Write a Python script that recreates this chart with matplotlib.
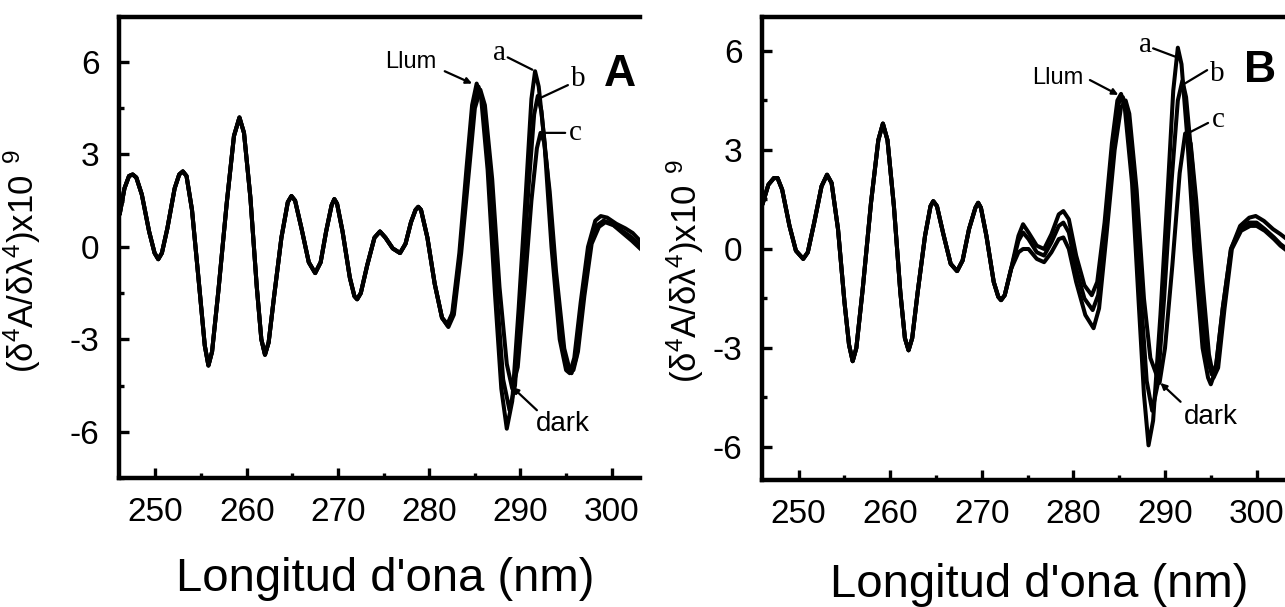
import numpy as np
import matplotlib
matplotlib.use("Agg")
import matplotlib.pyplot as plt
from matplotlib.ticker import MultipleLocator

plt.rcParams['font.family'] = ['Liberation Sans', 'DejaVu Sans']
plt.rcParams['mathtext.fontset'] = 'custom'
plt.rcParams['mathtext.rm'] = 'Liberation Sans'
plt.rcParams['mathtext.it'] = 'Liberation Sans:italic'

# ---- Panel A: part shared by all curves (nm, value x1e9)
xA_common = [246.1, 246.6, 247.1, 247.5, 247.9, 248.5, 249.3, 249.9, 250.3, 250.7,
             251.3, 252.1, 252.6, 253.0, 253.4, 254.0, 254.8, 255.4, 255.8, 256.2,
             256.9, 257.8, 258.6, 259.2, 259.7, 260.4, 261.1, 261.6, 262.0, 262.4,
             263.0, 263.8, 264.5, 264.9, 265.3, 266.0, 266.8, 267.5, 268.1, 268.7,
             269.3, 269.6, 269.9, 270.5, 271.3, 271.8, 272.1, 272.5, 273.2, 274.0,
             274.6, 275.2, 276.0, 276.8, 277.4, 278.0, 278.5, 278.8, 279.1, 279.8,
             280.6, 281.4]
yA_common = [1.1, 1.9, 2.3, 2.35, 2.25, 1.7, 0.5, -0.2, -0.4, -0.2,
             0.6, 1.9, 2.35, 2.45, 2.3, 1.2, -1.3, -3.2, -3.85, -3.4,
             -1.4, 1.4, 3.6, 4.2, 3.7, 1.6, -1.3, -3.0, -3.5, -3.1,
             -1.6, 0.3, 1.45, 1.65, 1.5, 0.6, -0.5, -0.85, -0.5, 0.5,
             1.35, 1.55, 1.4, 0.5, -1.0, -1.6, -1.7, -1.5, -0.6, 0.3,
             0.5, 0.3, -0.05, -0.2, 0.1, 0.8, 1.2, 1.3, 1.2, 0.3,
             -1.2, -2.3]

# ---- Panel A: separate curves after 282 nm
xA_a = [282.0, 282.5, 283.3, 284.1, 284.7, 285.2, 285.7, 286.4, 287.2, 287.9,
        288.5, 289.1, 289.8, 290.6, 291.2, 291.6, 292.0, 292.6, 293.4, 294.3,
        295.0, 295.4, 295.9, 296.6, 297.4, 298.2, 298.8, 299.5, 300.5, 301.5,
        302.3, 303.1]
yA_a = [-2.55, -2.2, -0.2, 2.6, 4.6, 5.3, 4.8, 2.5, -1.5, -4.6,
        -5.9, -5.0, -2.0, 1.8, 4.8, 5.7, 5.2, 3.5, 0.0, -3.0,
        -4.0, -4.1, -3.6, -1.8, 0.0, 0.85, 1.0, 0.95, 0.75, 0.6,
        0.45, 0.2]
xA_b = [282.0, 282.6, 283.4, 284.3, 284.9, 285.4, 285.9, 286.6, 287.4, 288.1,
        288.8, 289.4, 290.1, 290.9, 291.5, 291.9, 292.3, 292.9, 293.7, 294.6,
        295.2, 295.6, 296.1, 296.8, 297.6, 298.4, 299.1, 300.0, 301.0, 302.0,
        303.1]
yA_b = [-2.5, -2.1, -0.2, 2.6, 4.6, 5.2, 4.7, 2.4, -1.5, -4.3,
        -5.3, -4.5, -1.6, 2.0, 4.3, 4.9, 4.4, 2.6, -0.5, -3.2,
        -4.0, -4.1, -3.6, -1.8, 0.0, 0.7, 0.85, 0.75, 0.55, 0.35,
        0.05]
xA_c = [282.1, 282.7, 283.5, 284.4, 285.0, 285.6, 286.1, 286.9, 287.7, 288.5,
        289.1, 289.7, 290.4, 291.2, 291.8, 292.2, 292.6, 293.2, 293.9, 294.8,
        295.4, 295.8, 296.3, 297.0, 297.8, 298.6, 299.3, 300.2, 301.2, 302.2,
        303.1]
yA_c = [-2.6, -2.2, -0.2, 2.6, 4.5, 5.1, 4.6, 2.2, -1.3, -3.8,
        -4.6, -3.9, -1.5, 1.5, 3.2, 3.7, 3.4, 1.8, -0.8, -3.3,
        -4.0, -4.0, -3.4, -1.6, 0.1, 0.65, 0.8, 0.7, 0.45, 0.2,
        -0.05]

# ---- Panel B: shared part
xB_common = [246.1, 246.7, 247.3, 247.7, 248.2, 249.0, 249.7, 250.5, 251.0, 251.7,
             252.5, 253.1, 253.6, 254.3, 255.0, 255.5, 255.9, 256.3, 257.0, 257.9,
             258.7, 259.2, 259.7, 260.4, 261.1, 261.6, 262.0, 262.4, 263.0, 263.8,
             264.4, 264.7, 265.1, 265.8, 266.6, 267.3, 267.9, 268.6, 269.3, 269.6,
             269.9, 270.5, 271.3, 271.8, 272.1, 272.5, 273.2]
yB_common = [1.4, 1.95, 2.15, 2.15, 1.8, 0.7, -0.05, -0.3, -0.1, 0.8,
             1.9, 2.25, 2.0, 0.6, -1.6, -2.9, -3.4, -3.0, -1.2, 1.4,
             3.3, 3.8, 3.3, 1.3, -1.3, -2.7, -3.07, -2.7, -1.3, 0.4,
             1.3, 1.45, 1.3, 0.45, -0.45, -0.67, -0.35, 0.6, 1.25, 1.4,
             1.25, 0.4, -1.0, -1.45, -1.55, -1.4, -0.6]

# ---- Panel B: separate curves after 274 nm
xB_a = [274.0, 274.5, 275.1, 276.0, 276.8, 277.6, 278.4, 278.9, 279.5, 280.3,
        281.2, 282.0, 282.6, 283.4, 284.2, 284.8, 285.2, 285.6, 286.4, 287.1,
        287.7, 288.2, 288.7, 289.5, 290.3, 290.9, 291.4, 291.8, 292.4, 293.2,
        294.1, 294.7, 295.0, 295.5, 296.3, 297.2, 298.2, 299.2, 299.9, 300.8,
        301.8, 302.6, 303.3]
yB_a = [0.4, 0.75, 0.5, 0.1, 0.0, 0.45, 1.05, 1.15, 0.9, -0.2,
        -1.1, -1.4, -1.0, 0.8, 3.2, 4.5, 4.7, 4.3, 2.0, -1.5,
        -4.4, -5.95, -5.2, -2.0, 1.8, 4.8, 6.1, 5.6, 3.5, 0.0,
        -3.0, -3.9, -4.1, -3.7, -1.8, 0.0, 0.7, 0.95, 1.0, 0.85,
        0.6, 0.45, 0.3]
xB_b = [274.0, 274.5, 275.1, 276.0, 276.8, 277.6, 278.4, 278.9, 279.5, 280.3,
        281.2, 282.1, 282.7, 283.5, 284.3, 284.9, 285.4, 285.8, 286.6, 287.4,
        288.0, 288.6, 289.2, 289.9, 290.7, 291.4, 291.9, 292.3, 293.0, 293.7,
        294.5, 295.1, 295.6, 296.3, 297.2, 298.2, 299.2, 300.0, 300.9, 301.9,
        302.6, 303.3]
yB_b = [0.25, 0.5, 0.3, -0.1, -0.2, 0.2, 0.7, 0.8, 0.5, -0.6,
        -1.5, -1.85, -1.4, 0.6, 3.0, 4.4, 4.6, 4.2, 1.9, -1.6,
        -4.0, -4.9, -4.1, -1.5, 2.0, 4.5, 5.1, 4.6, 2.5, -0.5,
        -3.2, -3.8, -3.5, -1.8, 0.0, 0.6, 0.8, 0.8, 0.6, 0.35,
        0.15, 0.0]
xB_c = [274.0, 274.5, 275.1, 276.0, 276.8, 277.6, 278.4, 278.9, 279.5, 280.3,
        281.3, 282.2, 282.8, 283.6, 284.5, 285.2, 285.7, 286.1, 286.9, 287.7,
        288.4, 289.4, 290.0, 290.8, 291.6, 292.2, 292.8, 293.4, 294.1, 294.8,
        295.3, 295.8, 296.5, 297.3, 298.3, 299.3, 300.0, 300.9, 301.9, 302.6,
        303.3]
yB_c = [-0.1, 0.0, 0.0, -0.3, -0.4, -0.1, 0.3, 0.35, 0.0, -1.0,
        -2.0, -2.4, -1.8, 0.4, 3.0, 4.3, 4.5, 4.1, 1.8, -1.5,
        -3.3, -4.06, -3.0, -0.5, 2.3, 3.5, 3.2, 1.5, -1.0, -3.2,
        -3.9, -3.6, -1.8, 0.0, 0.55, 0.7, 0.7, 0.55, 0.3, 0.1,
        -0.05]

W, H = 1285, 607
fig = plt.figure(figsize=(W / 100, H / 100), dpi=100)
axA = fig.add_axes([119 / W, (H - 478) / H, (640 - 119) / W, (478 - 17) / H])
axB = fig.add_axes([762 / W, (H - 480) / H, (W - 762) / W, (480 - 17) / H])

ylab = r'($\mathregular{\delta^4A/\delta\lambda^4}$)x10$^{\mathregular{\;\;9}}$'


def draw_panel(ax, xc, yc, tails, ylim, ylab_xy, xlab_xy):
    for xt, yt in tails:
        ax.plot(xc + xt, yc + yt, color='black', lw=2.9, solid_joinstyle='round')
    ax.set_xlim(246.0, 303.1)
    ax.set_ylim(*ylim)
    ax.set_yticks([-6, -3, 0, 3, 6])
    ax.set_yticklabels(['-6', '-3', '0', '3', '6'])
    ax.set_xticks([250, 260, 270, 280, 290, 300])
    ax.xaxis.set_minor_locator(MultipleLocator(5))
    ax.yaxis.set_minor_locator(MultipleLocator(1.5))
    ax.tick_params(which='both', direction='in', top=False, right=False,
                   labelsize=24, width=2.4, pad=14)
    ax.tick_params(which='major', length=7)
    ax.tick_params(which='minor', length=3.5)
    ax.spines['right'].set_visible(False)
    for s in ['left', 'bottom', 'top']:
        ax.spines[s].set_linewidth(3.2)
    ax.set_ylabel(ylab, fontsize=25)
    ax.yaxis.set_label_coords(*ylab_xy)
    ax.set_xlabel("Longitud d'ona (nm)", fontsize=34)
    ax.xaxis.set_label_coords(*xlab_xy)


draw_panel(axA, xA_common, yA_common,
           [(xA_a, yA_a), (xA_b, yA_b), (xA_c, yA_c)],
           (-7.5, 7.46), (-0.146, 0.47), (0.51, -0.172))
draw_panel(axB, xB_common, yB_common,
           [(xB_a, yB_a), (xB_b, yB_b), (xB_c, yB_c)],
           (-7.0, 7.03), (-0.107, 0.45), (0.53, -0.18))

serif = ['Liberation Serif', 'DejaVu Serif']
head = dict(arrowstyle='-|>', color='black', lw=1.6, mutation_scale=9,
            shrinkA=0, shrinkB=0)
line = dict(arrowstyle='-', color='black', lw=1.6, shrinkA=0, shrinkB=0)


def labels(ax, llum, a, b, c, dark, letter):
    ax.text(*llum[0], 'Llum', fontsize=17, ha='center', va='center')
    ax.annotate('', xy=llum[2], xytext=llum[1], arrowprops=head)
    for (txt, (pos, tail, tip)) in zip('abc', (a, b, c)):
        ax.text(*pos, txt, fontsize=21, family=serif, ha='center', va='center')
        ax.annotate('', xy=tip, xytext=tail, arrowprops=line)
    ax.text(*dark[0], 'dark', fontsize=20, ha='center', va='center')
    ax.annotate('', xy=dark[2], xytext=dark[1], arrowprops=head)
    ax.text(*letter[0], letter[1], fontsize=32, fontweight='bold',
            ha='center', va='center')


labels(axA,
       ((278.0, 6.0), (281.7, 5.7), (284.7, 5.3)),
       ((287.7, 6.3), (288.6, 6.15), (291.3, 5.75)),
       ((296.3, 5.45), (295.2, 5.25), (292.3, 4.85)),
       ((296.0, 3.7), (294.9, 3.7), (292.5, 3.7)),
       ((294.6, -5.75), (291.8, -5.3), (289.1, -4.55)),
       ((300.9, 5.6), 'A'))
labels(axB,
       ((278.3, 5.17), (281.8, 5.12), (284.9, 4.67)),
       ((287.9, 6.18), (288.7, 6.08), (291.1, 5.83)),
       ((295.7, 5.3), (294.6, 5.42), (291.9, 4.97)),
       ((295.8, 3.9), (294.7, 3.82), (292.1, 3.45)),
       ((295.0, -5.1), (291.7, -4.63), (289.5, -4.06)),
       ((300.4, 5.4), 'B'))

fig.savefig('out.png', dpi=100)
